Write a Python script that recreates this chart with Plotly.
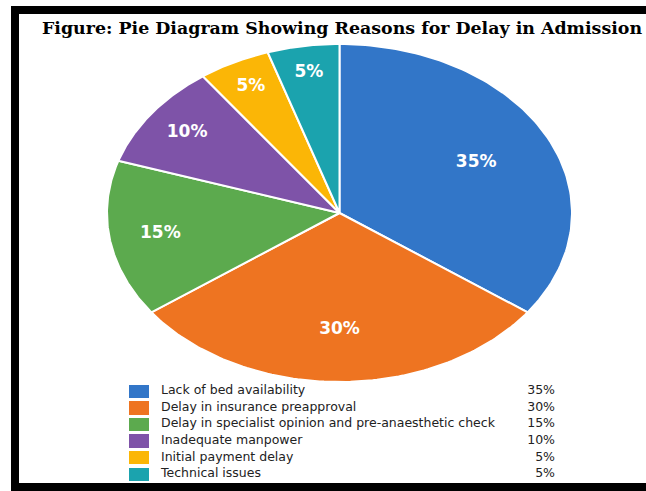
import numpy as np
import plotly.graph_objects as go

categories = ["Lack of bed availability", "Delay in insurance preapproval",
              "Delay in specialist opinion and pre-anaesthetic check",
              "Inadequate manpower", "Initial payment delay", "Technical issues"]
values = [35, 30, 15, 10, 5, 5]
colors = ["#3276c8", "#ee7421", "#5caa4e", "#7e53a8", "#fbb606", "#1ba3ae"]
title_text = "Figure: Pie Diagram Showing Reasons for Delay in Admission"

W, H = 646, 491


def px_x(x):
    return x / W


def px_y(y):
    return 1 - y / H


fig = go.Figure()

vals = np.array(values, dtype=float)
frac = vals / vals.sum()
ends = np.cumsum(frac) * 2 * np.pi
starts = ends - frac * 2 * np.pi

for cat, s, e, c in zip(categories, starts, ends, colors):
    th = np.linspace(s, e, 100)
    xs = np.concatenate([[0], np.sin(th), [0]])
    ys = np.concatenate([[0], np.cos(th), [0]])
    fig.add_trace(go.Scatter(x=xs, y=ys, mode="lines", fill="toself",
                             fillcolor=c, line=dict(color="white", width=2),
                             hoverinfo="skip", showlegend=False,
                             xaxis="x", yaxis="y"))

mids = (starts + ends) / 2
r = 0.87 - 0.6 * frac
fig.add_trace(go.Scatter(x=r * np.sin(mids), y=r * np.cos(mids), mode="text",
                         text=[f"{v}%" for v in values],
                         textfont=dict(family="DejaVu Sans", size=17, color="white", weight="bold"),
                         hoverinfo="skip", showlegend=False, xaxis="x", yaxis="y"))

# legend table
rows = list(range(len(categories)))
LEG_W = 427
fig.add_trace(go.Bar(x=[20] * len(rows), y=rows, orientation="h", width=0.8,
                     marker=dict(color=colors, line=dict(width=0)),
                     hoverinfo="skip", showlegend=False, xaxis="x2", yaxis="y2"))
fig.add_trace(go.Scatter(x=[32] * len(rows), y=rows, mode="text", text=categories,
                         textposition="middle right",
                         textfont=dict(family="DejaVu Sans", size=12.5, color="#222222"),
                         hoverinfo="skip", showlegend=False, xaxis="x2", yaxis="y2"))
fig.add_trace(go.Scatter(x=[LEG_W - 1] * len(rows), y=rows, mode="text", text=[f"{v}%" for v in values],
                         textposition="middle left",
                         textfont=dict(family="DejaVu Sans", size=12.5, color="#222222"),
                         hoverinfo="skip", showlegend=False, xaxis="x2", yaxis="y2"))

axis_off = dict(visible=False, showgrid=False, zeroline=False, fixedrange=True)
fig.update_layout(
    width=W, height=H, margin=dict(l=0, r=0, t=0, b=0),
    paper_bgcolor="white", plot_bgcolor="rgba(0,0,0,0)",
    xaxis=dict(domain=[px_x(107), px_x(572)], range=[-1, 1], **axis_off),
    yaxis=dict(domain=[px_y(382), px_y(44)], range=[-1, 1], **axis_off),
    xaxis2=dict(domain=[px_x(129), px_x(129 + LEG_W)], range=[0, LEG_W], anchor="y2", **axis_off),
    yaxis2=dict(domain=[px_y(482.3), px_y(382.7)], range=[5.5, -0.5], anchor="x2", **axis_off),
    bargap=0,
    annotations=[dict(text=f"<b>{title_text}</b>", x=px_x(342), y=px_y(28), xref="paper", yref="paper",
                      showarrow=False, xanchor="center", yanchor="middle",
                      font=dict(family="DejaVu Serif", size=17.4, color="black"))],
    shapes=[
        dict(type="rect", xref="paper", yref="paper", x0=px_x(11), x1=px_x(19), y0=0, y1=px_y(6),
             fillcolor="black", line=dict(width=0), layer="above"),
        dict(type="rect", xref="paper", yref="paper", x0=px_x(11), x1=1, y0=px_y(14), y1=px_y(6),
             fillcolor="black", line=dict(width=0), layer="above"),
        dict(type="rect", xref="paper", yref="paper", x0=px_x(11), x1=1, y0=0, y1=px_y(483),
             fillcolor="black", line=dict(width=0), layer="above"),
    ],
)
fig.write_html("out.html", config={"displayModeBar": False},
               post_script=("document.documentElement.style.margin='0px';"
                            "document.documentElement.style.overflow='hidden';"
                            "document.documentElement.style.background='white';"
                            "document.body.style.margin='0px';"
                            "document.body.style.overflow='hidden';"
                            "document.body.style.background='white';"))
